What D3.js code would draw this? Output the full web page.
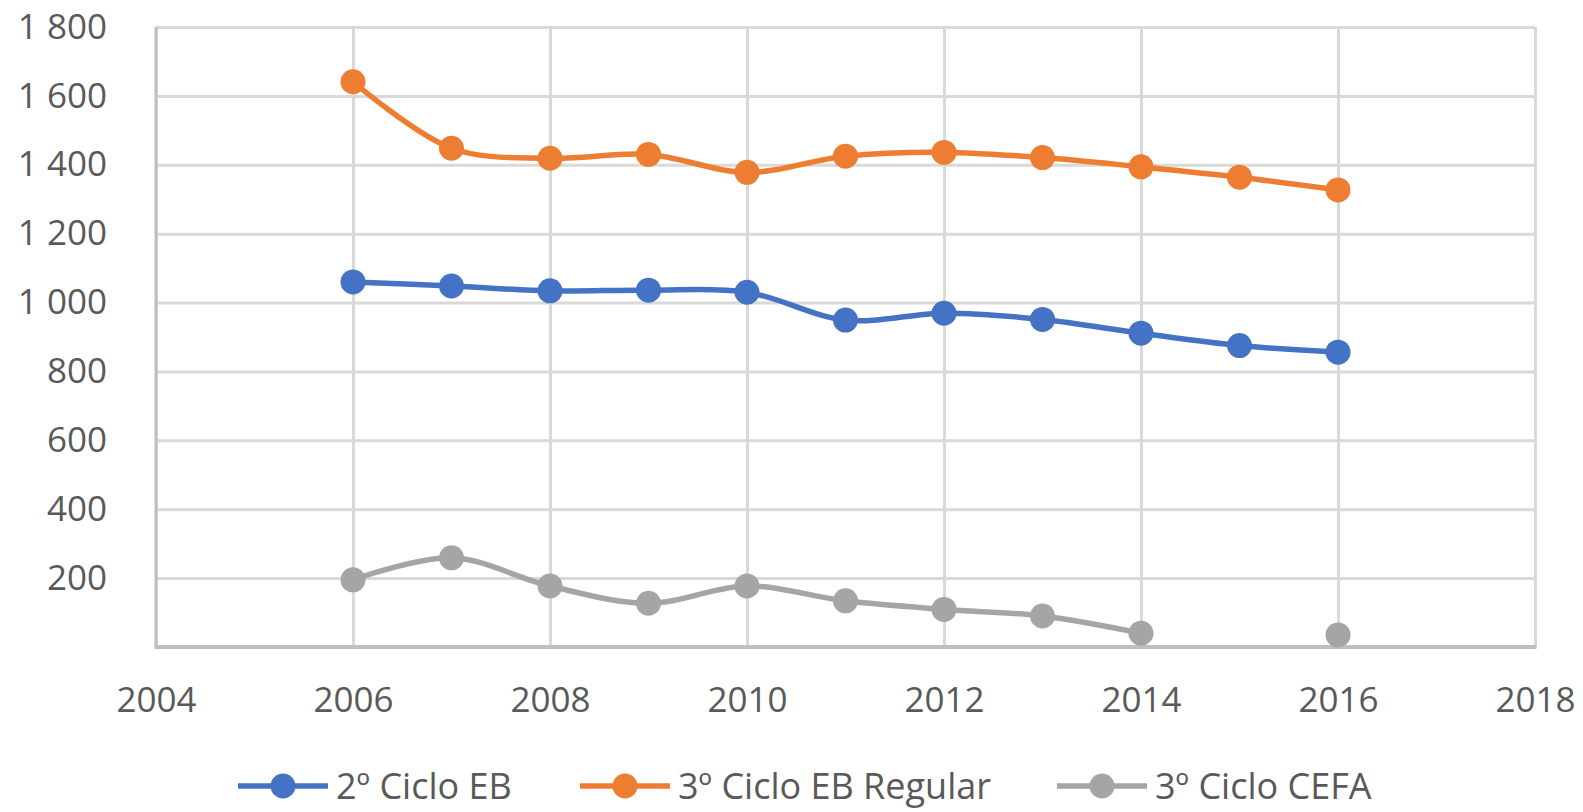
<!DOCTYPE html>
<html>
<head>
<meta charset="utf-8">
<script src="https://cdnjs.cloudflare.com/ajax/libs/d3/7.8.5/d3.min.js"></script>
<style>
  body { margin: 0; background: #fff; }
  svg { display: block; font-family: "Open Sans", "Noto Sans", sans-serif; }
  .tick text { fill: #595959; font-size: 35px; font-family: "Open Sans", "Noto Sans", sans-serif; }
  .legend text { fill: #595959; font-size: 36px; }
</style>
</head>
<body>
<div id="chart"></div>
<script>
// anos e séries
const years = [2006, 2007, 2008, 2009, 2010, 2011, 2012, 2013, 2014, 2015, 2016];
const cicloEB2 = [1060, 1048, 1034, 1036, 1030, 949, 969, 951, 911, 875, 856];
const cicloEB3Regular = [1641, 1448, 1419, 1430, 1378, 1425, 1436, 1421, 1394, 1364, 1327];
const cicloCEFA = [195, 259, 177, 127, 177, 134, 109, 90, 40, null, 35];

const seriesNames = ["2º Ciclo EB", "3º Ciclo EB Regular", "3º Ciclo CEFA"];
const seriesColors = ["#4472C4", "#ED7D31", "#A5A5A5"];
const xTicks = [2004, 2006, 2008, 2010, 2012, 2014, 2016, 2018];
const yTicks = [0, 200, 400, 600, 800, 1000, 1200, 1400, 1600, 1800];

const w = 1583, h = 812;
const pL = 156, pR = 1535, pT = 27, pB = 647;

const svg = d3.select("#chart").append("svg")
  .attr("width", w)
  .attr("height", h);

const x = d3.scaleLinear().domain([2004, 2018]).range([pL, pR]);
const y = d3.scaleLinear().domain([0, 1800]).range([pB, pT]);

const fmt = v => v >= 1000 ? Math.floor(v / 1000) + " " + d3.format("03d")(v % 1000) : String(v);

// grelha vertical
svg.append("g")
  .attr("transform", "translate(0," + pB + ")")
  .call(d3.axisBottom(x).tickValues(xTicks).tickSize(-(pB - pT)).tickFormat(d3.format("d")).tickPadding(53))
  .call(g => g.select(".domain").remove())
  .call(g => g.selectAll(".tick line").attr("stroke", "#D9D9D9").attr("stroke-width", 3))
  .call(g => g.selectAll(".tick text").attr("dy", "0.35em"));

// grelha horizontal
svg.append("g")
  .attr("transform", "translate(" + pL + ",0)")
  .call(d3.axisLeft(y).tickValues(yTicks).tickSize(-(pR - pL)).tickFormat(d => d === 0 ? "" : fmt(d)).tickPadding(49))
  .call(g => g.select(".domain").remove())
  .call(g => g.selectAll(".tick line").attr("stroke", "#D9D9D9").attr("stroke-width", 3));

// eixos
svg.append("line")
  .attr("x1", pL).attr("x2", pL).attr("y1", pT).attr("y2", pB)
  .attr("stroke", "#BFBFBF").attr("stroke-width", 3);
svg.append("line")
  .attr("x1", pL - 1.5).attr("x2", pR + 1.5).attr("y1", pB).attr("y2", pB)
  .attr("stroke", "#BFBFBF").attr("stroke-width", 4);

const allSeries = [cicloEB2, cicloEB3Regular, cicloCEFA];

const line = d3.line()
  .defined(d => d[1] != null)
  .x(d => x(d[0]))
  .y(d => y(d[1]))
  .curve(d3.curveCatmullRom.alpha(0.5));

allSeries.forEach((vals, i) => {
  const pts = years.map((yr, j) => [yr, vals[j]]);
  svg.append("path")
    .datum(pts)
    .attr("d", line)
    .attr("fill", "none")
    .attr("stroke", seriesColors[i])
    .attr("stroke-width", 5.5)
    .attr("stroke-linejoin", "round");
  svg.selectAll(null)
    .data(pts.filter(d => d[1] != null))
    .enter()
    .append("circle")
    .attr("cx", d => x(d[0]))
    .attr("cy", d => y(d[1]))
    .attr("r", 12.5)
    .attr("fill", seriesColors[i]);
});

// legenda
const legendX = [238, 580, 1057];
const legend = svg.append("g").attr("class", "legend");
seriesNames.forEach((name, i) => {
  const g = legend.append("g").attr("transform", "translate(" + legendX[i] + ",786)");
  g.append("line").attr("x1", 0).attr("x2", 90).attr("y1", 0).attr("y2", 0)
    .attr("stroke", seriesColors[i]).attr("stroke-width", 5.5);
  g.append("circle").attr("cx", 45).attr("cy", 0).attr("r", 12.5).attr("fill", seriesColors[i]);
  g.append("text").attr("x", 98).attr("y", 0).attr("dy", "0.36em").text(name);
});
</script>
</body>
</html>
